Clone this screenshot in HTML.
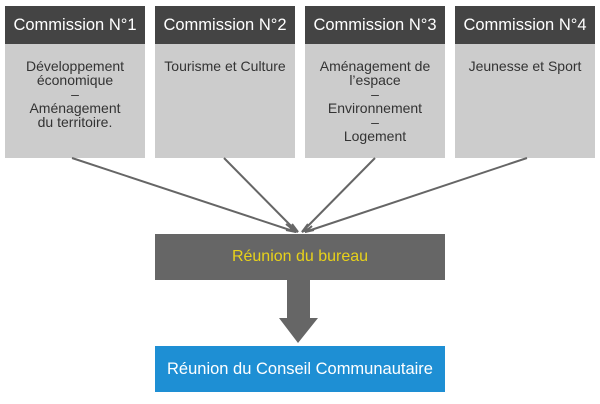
<!DOCTYPE html>
<html><head><style>
body{margin:0;width:600px;height:404px;background:#fff;position:relative;font-family:"Liberation Sans",sans-serif;overflow:hidden}
.h{position:absolute;top:6px;width:140px;height:38px;background:#444;color:#fff;font-size:16.5px;line-height:38px;text-align:center;white-space:nowrap}
.b{position:absolute;top:44px;width:140px;height:114px;background:#ccc;color:#333;font-size:14px;line-height:14px;text-align:center;box-sizing:border-box;padding-top:15px}
</style></head><body>
<div class="h" style="left:5px">Commission N°1</div>
<div class="b" style="left:5px">Développement<br>économique<br>–<br>Aménagement<br>du territoire.</div>
<div class="h" style="left:155px">Commission N°2</div>
<div class="b" style="left:155px">Tourisme et Culture</div>
<div class="h" style="left:305px">Commission N°3</div>
<div class="b" style="left:305px">Aménagement de<br>l’espace<br>–<br>Environnement<br>–<br>Logement</div>
<div class="h" style="left:455px">Commission N°4</div>
<div class="b" style="left:455px">Jeunesse et Sport</div>
<svg width="600" height="404" style="position:absolute;left:0;top:0">
<g stroke="#666" stroke-width="2" fill="none">
<line x1="72" y1="158" x2="296" y2="232"/>
<line x1="224" y1="158" x2="297" y2="232"/>
<line x1="375" y1="158" x2="302" y2="232"/>
<line x1="527" y1="158" x2="305" y2="232"/>
<polyline points="286,224 296,232 286,230"/>
<polyline points="292,224 298,232 290,228"/>
<polyline points="308,224 302,232 310,228"/>
<polyline points="314,230 305,232 312,226"/>
</g>
<polygon points="287,280 310,280 310,318 318,318 298,343 279,318 287,318" fill="#666"/>
</svg>
<div style="position:absolute;left:155px;top:234px;width:290px;height:46px;background:#666;color:#e8d21a;font-size:16px;line-height:46px;text-align:center">Réunion du bureau</div>
<div style="position:absolute;left:155px;top:346px;width:290px;height:46px;background:#1e8fd4;color:#fff;font-size:16.5px;line-height:46px;text-align:center">Réunion du Conseil Communautaire</div>
</body></html>
